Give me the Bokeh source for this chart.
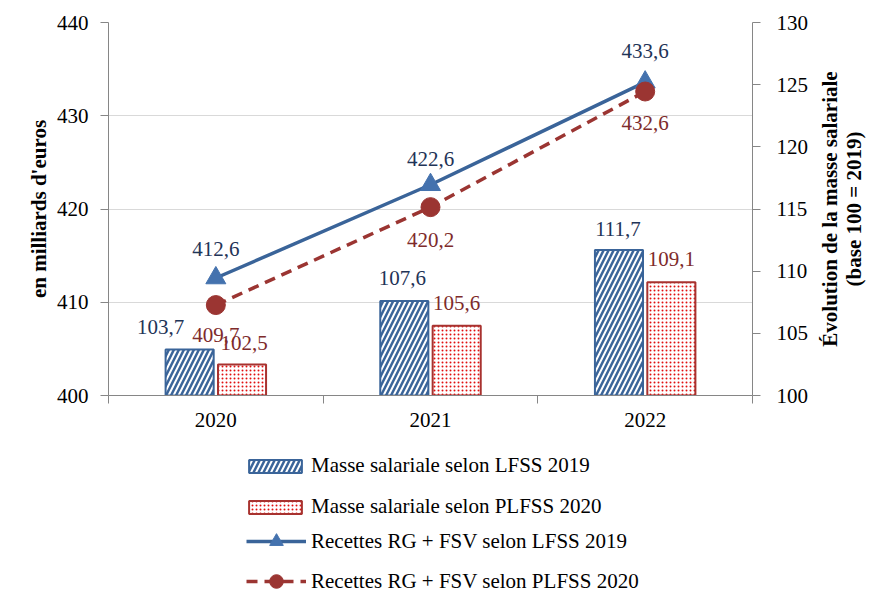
import math
from bokeh.plotting import figure
from bokeh.layouts import row, column
from bokeh.models import (Range1d, LinearAxis, FixedTicker, ColumnDataSource,
                          Legend, LegendItem)
from bokeh.core.properties import value
from bokeh.embed import file_html
from bokeh.resources import INLINE

# ---------------- data ----------------
years = ["2020", "2021", "2022"]
masse_lfss2019 = [103.7, 107.6, 111.7]      # right axis (base 100 = 2019)
masse_plfss2020 = [102.5, 105.6, 109.1]     # right axis
recettes_lfss2019 = [412.6, 422.6, 433.6]   # left axis (Md€)
recettes_plfss2020 = [409.7, 420.2, 432.6]  # left axis
left_ticks = [400, 410, 420, 430, 440]
right_ticks = [100, 105, 110, 115, 120, 125, 130]
left_title = "en milliards d'euros"
right_title = "Évolution de la masse salariale\n(base 100 = 2019)"
legend_labels = ["Masse salariale selon LFSS 2019",
                 "Masse salariale selon PLFSS 2020",
                 "Recettes RG + FSV selon LFSS 2019",
                 "Recettes RG + FSV selon PLFSS 2020"]

# ---------------- style ----------------
FONT = "Liberation Serif"
FS = "21px"
BLUE = "#3A6499"
BLUE_MK = "#4472AE"
BLUE_TXT = "#1F3457"
RED = "#9B3532"
RED_BAR = "#A8322F"
RED_DOT = "#E01010"
RED_TXT = "#7E2B2B"
AXIS = "#868686"
GRID = "#D9D9D9"
BAR_OFF = 0.122
BAR_W = 0.224

# label pixel offsets (style)
off_line_a = [(0, -29), (0, -26), (0, -31)]
off_line_b = [(0, 30), (0, 33), (0, 31)]
off_bar_a = [(-29, -22), (-2, -23), (-1, -21)]
off_bar_b = [(2, -21), (0, -23), (0, -23)]

def fr(v):
    return f"{v:.1f}".replace(".", ",")

xc = [i + 0.5 for i in range(len(years))]
src_bars = ColumnDataSource(dict(
    xa=[x - BAR_OFF for x in xc], xb=[x + BAR_OFF for x in xc],
    a=masse_lfss2019, b=masse_plfss2020))
src_lines = ColumnDataSource(dict(x=xc, a=recettes_lfss2019, b=recettes_plfss2020))

bar_a_style = dict(fill_color="white", line_color=BLUE, line_width=2,
                   hatch_pattern="right_diagonal_line", hatch_color=BLUE,
                   hatch_scale=10, hatch_weight=2.5)
bar_b_style = dict(fill_color="white", line_color=RED_BAR, line_width=2,
                   hatch_pattern="dot", hatch_color=RED_DOT,
                   hatch_scale=4, hatch_weight=0.5)
line_a_style = dict(line_color=BLUE, line_width=3.5)
line_b_style = dict(line_color=RED, line_width=3.5, line_dash="11 7")
mk_a_style = dict(marker="triangle", size=20, fill_color=BLUE_MK, line_color=BLUE_MK)
mk_b_style = dict(marker="circle", size=19, fill_color=RED, line_color=RED)

# ---------------- main chart ----------------
p = figure(frame_width=644, frame_height=373, x_range=Range1d(0, len(years)),
           y_range=Range1d(left_ticks[0], left_ticks[-1]),
           output_backend="svg", toolbar_location=None,
           min_border_left=108, min_border_right=62,
           min_border_top=22, min_border_bottom=45)
p.extra_y_ranges = {"idx": Range1d(right_ticks[0], right_ticks[-1])}
p.outline_line_color = None
p.background_fill_color = "white"
p.border_fill_color = "white"

p.xgrid.visible = False
p.ygrid.ticker = FixedTicker(ticks=left_ticks)
p.ygrid.grid_line_color = GRID
p.ygrid.grid_line_width = 1

xa = p.xaxis[0]
xa.ticker = FixedTicker(ticks=xc, minor_ticks=list(range(len(years) + 1)))
xa.major_label_overrides = {x: y for x, y in zip(xc, years)}
xa.major_tick_line_color = None
xa.major_tick_out = 8
xa.major_tick_in = 0
xa.minor_tick_out = 8
xa.minor_tick_in = 0
xa.minor_tick_line_color = AXIS
xa.axis_line_color = AXIS
xa.major_label_standoff = 9
xa.major_label_text_font = FONT
xa.major_label_text_font_size = FS
xa.major_label_text_color = "black"

def style_y(ax, standoff):
    ax.major_tick_out = 8
    ax.major_tick_in = 0
    ax.minor_tick_line_color = None
    ax.major_tick_line_color = AXIS
    ax.axis_line_color = AXIS
    ax.major_label_standoff = standoff
    ax.major_label_text_font = FONT
    ax.major_label_text_font_size = FS
    ax.major_label_text_color = "black"
    ax.axis_label_text_font = FONT
    ax.axis_label_text_font_size = FS
    ax.axis_label_text_font_style = "bold"
    ax.axis_label_text_color = "black"
    ax.axis_label_standoff = 3

ya = p.yaxis[0]
ya.ticker = FixedTicker(ticks=left_ticks)
ya.axis_label = left_title
style_y(ya, 12)

yr = LinearAxis(y_range_name="idx", ticker=FixedTicker(ticks=right_ticks))
style_y(yr, 16)
p.add_layout(yr, "right")

p.vbar(x="xa", top="a", bottom=right_ticks[0], width=BAR_W, source=src_bars,
       y_range_name="idx", **bar_a_style)
p.vbar(x="xb", top="b", bottom=right_ticks[0], width=BAR_W, source=src_bars,
       y_range_name="idx", **bar_b_style)
p.line("x", "a", source=src_lines, **line_a_style)
p.scatter("x", "a", source=src_lines, **mk_a_style)
p.line("x", "b", source=src_lines, **line_b_style)
p.scatter("x", "b", source=src_lines, **mk_b_style)

def labels(xs, vals, offs, color, yname=None):
    src = ColumnDataSource(dict(x=xs, y=vals, t=[fr(v) for v in vals],
                                dx=[o[0] for o in offs], dy=[o[1] for o in offs]))
    kw = dict(y_range_name=yname) if yname else {}
    p.text("x", "y", text="t", x_offset="dx", y_offset="dy", source=src,
           text_font=value(FONT), text_font_size=value(FS), text_color=color,
           text_align="center", text_baseline="middle", **kw)

labels(xc, recettes_lfss2019, off_line_a, BLUE_TXT)
labels(xc, recettes_plfss2020, off_line_b, RED_TXT)
labels(src_bars.data["xa"], masse_lfss2019, off_bar_a, BLUE_TXT, "idx")
labels(src_bars.data["xb"], masse_plfss2020, off_bar_b, RED_TXT, "idx")

# ---------------- side figure: right-hand title ----------------
p2 = figure(frame_width=2, frame_height=373, output_backend="svg",
            toolbar_location=None, min_border_left=0, min_border_right=0,
            min_border_top=22, min_border_bottom=0)
p2.outline_line_color = None
p2.grid.visible = False
p2.xaxis.visible = False
p2.line("x", "a", source=src_lines, visible=False)
ay = p2.yaxis[0]
ay.ticker = FixedTicker(ticks=[])
ay.axis_line_color = None
ay.major_tick_line_color = None
ay.minor_tick_line_color = None
ay.major_tick_out = 0
ay.major_tick_in = 0
ay.minor_tick_out = 0
ay.minor_tick_in = 0
ay.major_label_standoff = 0
ay.axis_label_standoff = 0
ay.axis_label = right_title
ay.axis_label_text_font = FONT
ay.axis_label_text_font_size = FS
ay.axis_label_text_font_style = "bold"
ay.axis_label_text_color = "black"
ay.axis_label_text_line_height = 1.0

# ---------------- legend figure (below) ----------------
p3 = figure(frame_width=644, frame_height=160, output_backend="svg",
            toolbar_location=None, min_border_left=108, min_border_right=62,
            min_border_top=0, min_border_bottom=0)
p3.outline_line_color = None
p3.grid.visible = False
p3.xaxis.visible = False
p3.yaxis.visible = False
g_a = p3.vbar(x="xa", top="a", bottom=right_ticks[0], width=BAR_W,
              source=src_bars, visible=False, **bar_a_style)
g_b = p3.vbar(x="xb", top="b", bottom=right_ticks[0], width=BAR_W,
              source=src_bars, visible=False, **bar_b_style)
g_la = p3.line("x", "a", source=src_lines, visible=False, **line_a_style)
g_ma = p3.scatter("x", "a", source=src_lines, visible=False, **mk_a_style)
g_lb = p3.line("x", "b", source=src_lines, visible=False, **line_b_style)
g_mb = p3.scatter("x", "b", source=src_lines, visible=False, **mk_b_style)

def mk_leg(items, loc, gw, gh, standoff, spacing):
    lg = Legend(items=items, location=loc, orientation="vertical",
                glyph_width=gw, glyph_height=gh, label_height=20,
                label_standoff=standoff, spacing=spacing, padding=0, margin=0,
                label_text_font=FONT, label_text_font_size=FS,
                label_text_color="black", border_line_color=None,
                background_fill_alpha=0, inactive_fill_alpha=0)
    p3.add_layout(lg)
    return lg

mk_leg([LegendItem(label=legend_labels[0], renderers=[g_a]),
        LegendItem(label=legend_labels[1], renderers=[g_b])],
       (134, 81), 66, 16, 3, 16)
mk_leg([LegendItem(label=legend_labels[2], renderers=[g_la, g_ma]),
        LegendItem(label=legend_labels[3], renderers=[g_lb, g_mb])],
       (138, 2), 60, 34, 5, 6)

layout = column(row(p, p2), p3)
open("out.html", "w").write(file_html(layout, INLINE))
